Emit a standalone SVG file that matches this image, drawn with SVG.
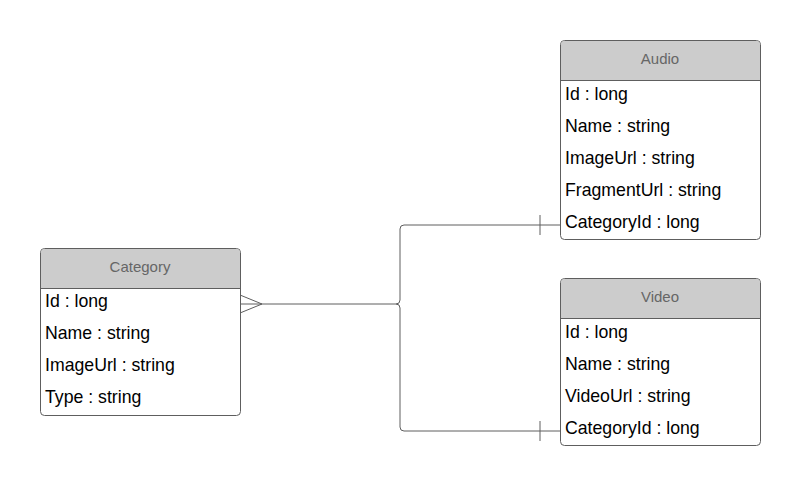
<svg xmlns="http://www.w3.org/2000/svg" width="800" height="486" viewBox="0 0 800 486">
<style>
.box{fill:#fff;stroke:#5e5e5e;stroke-width:1}
.hdr{fill:#cccccc}
.hl{stroke:#5e5e5e;stroke-width:1}
.title{font-family:"Liberation Sans",Arial,sans-serif;font-size:15px;fill:#666;text-anchor:middle}
.f{font-family:"Liberation Sans",Arial,sans-serif;font-size:17.7px;fill:#000}
.c{fill:none;stroke:#5e5e5e;stroke-width:1}
</style>
<rect width="800" height="486" fill="#fff"/>
<g id="connectors">
<path class="c" d="M240,295 L262,304 L240,313 M240,304 L396,304 Q400,304 400,300 L400,229 Q400,225 404,225 L560,225 M400,308 L400,427 Q400,431 404,431 L560,431 M396,304 Q400,304 400,308"/>
<path class="c" d="M540,215 L540,235 M540,421 L540,441"/>
</g>
<g id="category">
<rect class="box" x="40.5" y="248.5" width="200" height="167" rx="4"/>
<path class="hdr" d="M44.5,249 H236.5 Q240,249 240,252.5 V288 H41 V252.5 Q41,249 44.5,249 Z"/>
<line class="hl" x1="40.5" y1="288.5" x2="240.5" y2="288.5"/>
<text class="title" x="140" y="272">Category</text>
<text class="f" x="45" y="307">Id : long</text>
<text class="f" x="45" y="339">Name : string</text>
<text class="f" x="45" y="371">ImageUrl : string</text>
<text class="f" x="45" y="403">Type : string</text>
</g>
<g id="audio">
<rect class="box" x="560.5" y="40.5" width="200" height="199" rx="4"/>
<path class="hdr" d="M564.5,41 H756.5 Q760,41 760,44.5 V80 H561 V44.5 Q561,41 564.5,41 Z"/>
<line class="hl" x1="560.5" y1="80.5" x2="760.5" y2="80.5"/>
<text class="title" x="660" y="64">Audio</text>
<text class="f" x="565" y="100">Id : long</text>
<text class="f" x="565" y="132">Name : string</text>
<text class="f" x="565" y="164">ImageUrl : string</text>
<text class="f" x="565" y="196">FragmentUrl : string</text>
<text class="f" x="565" y="228">CategoryId : long</text>
</g>
<g id="video">
<rect class="box" x="560.5" y="278.5" width="200" height="167" rx="4"/>
<path class="hdr" d="M564.5,279 H756.5 Q760,279 760,282.5 V318 H561 V282.5 Q561,279 564.5,279 Z"/>
<line class="hl" x1="560.5" y1="318.5" x2="760.5" y2="318.5"/>
<text class="title" x="660" y="302">Video</text>
<text class="f" x="565" y="338">Id : long</text>
<text class="f" x="565" y="370">Name : string</text>
<text class="f" x="565" y="402">VideoUrl : string</text>
<text class="f" x="565" y="434">CategoryId : long</text>
</g>
</svg>
